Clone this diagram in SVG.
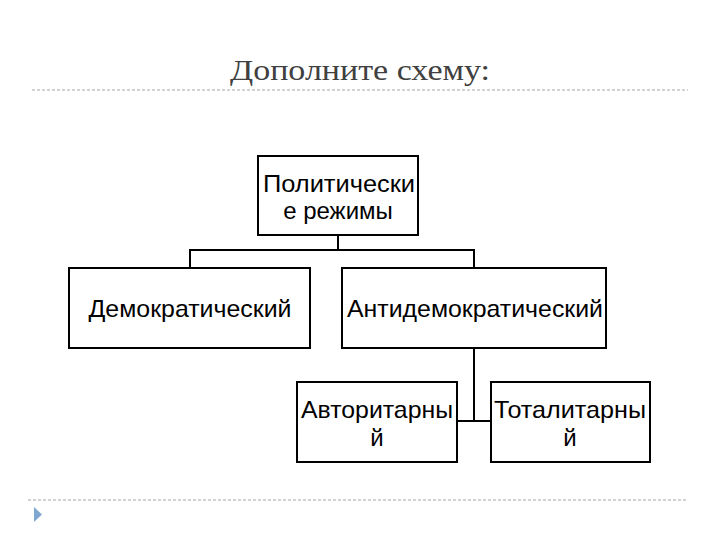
<svg xmlns="http://www.w3.org/2000/svg" width="720" height="540" viewBox="0 0 720 540">
<style>
.box{fill:#fff;stroke:#000;stroke-width:2}
.t{font-family:"Liberation Sans",Arial,sans-serif;font-size:24px;fill:#000;text-anchor:middle}
.c{fill:none;stroke:#000;stroke-width:2}
.sep{stroke:#a6a6a6;stroke-width:1;stroke-dasharray:3,2}
</style>
<rect width="720" height="540" fill="#fff"/>
<text x="230" y="80" font-family="'Liberation Serif','DejaVu Serif',serif" font-size="30" fill="#404040" textLength="260" lengthAdjust="spacingAndGlyphs">Дополните схему:</text>
<line class="sep" x1="32" y1="90" x2="688" y2="90"/>
<line class="sep" x1="28" y1="500" x2="686" y2="500"/>
<polygon points="34,507 42,514.5 34,522" fill="#7fa7d0"/>
<g id="connectors">
<polyline class="c" points="338,235 338,250"/>
<polyline class="c" points="190,268 190,250 474,250 474,268"/>
<polyline class="c" points="474,348 474,421"/>
<polyline class="c" points="457,421 491,421"/>
</g>
<g id="politicheskie">
<rect class="box" x="258" y="156" width="160" height="79"/>
<text class="t" x="339" y="192" textLength="152" lengthAdjust="spacingAndGlyphs">Политически</text>
<text class="t" x="338" y="219">е режимы</text>
</g>
<g id="demokraticheskiy">
<rect class="box" x="69" y="268" width="241" height="80"/>
<text class="t" x="190" y="317" textLength="203" lengthAdjust="spacingAndGlyphs">Демократический</text>
</g>
<g id="antidemokraticheskiy">
<rect class="box" x="342" y="268" width="264" height="80"/>
<text class="t" x="475" y="317" textLength="256" lengthAdjust="spacingAndGlyphs">Антидемократический</text>
</g>
<g id="avtoritarnyy">
<rect class="box" x="297" y="382" width="160" height="80"/>
<text class="t" x="377" y="418" textLength="152" lengthAdjust="spacingAndGlyphs">Авторитарны</text>
<text class="t" x="377" y="446">й</text>
</g>
<g id="totalitarnyy">
<rect class="box" x="491" y="382" width="159" height="80"/>
<text class="t" x="570" y="418" textLength="152" lengthAdjust="spacingAndGlyphs">Тоталитарны</text>
<text class="t" x="570" y="446">й</text>
</g>
</svg>
